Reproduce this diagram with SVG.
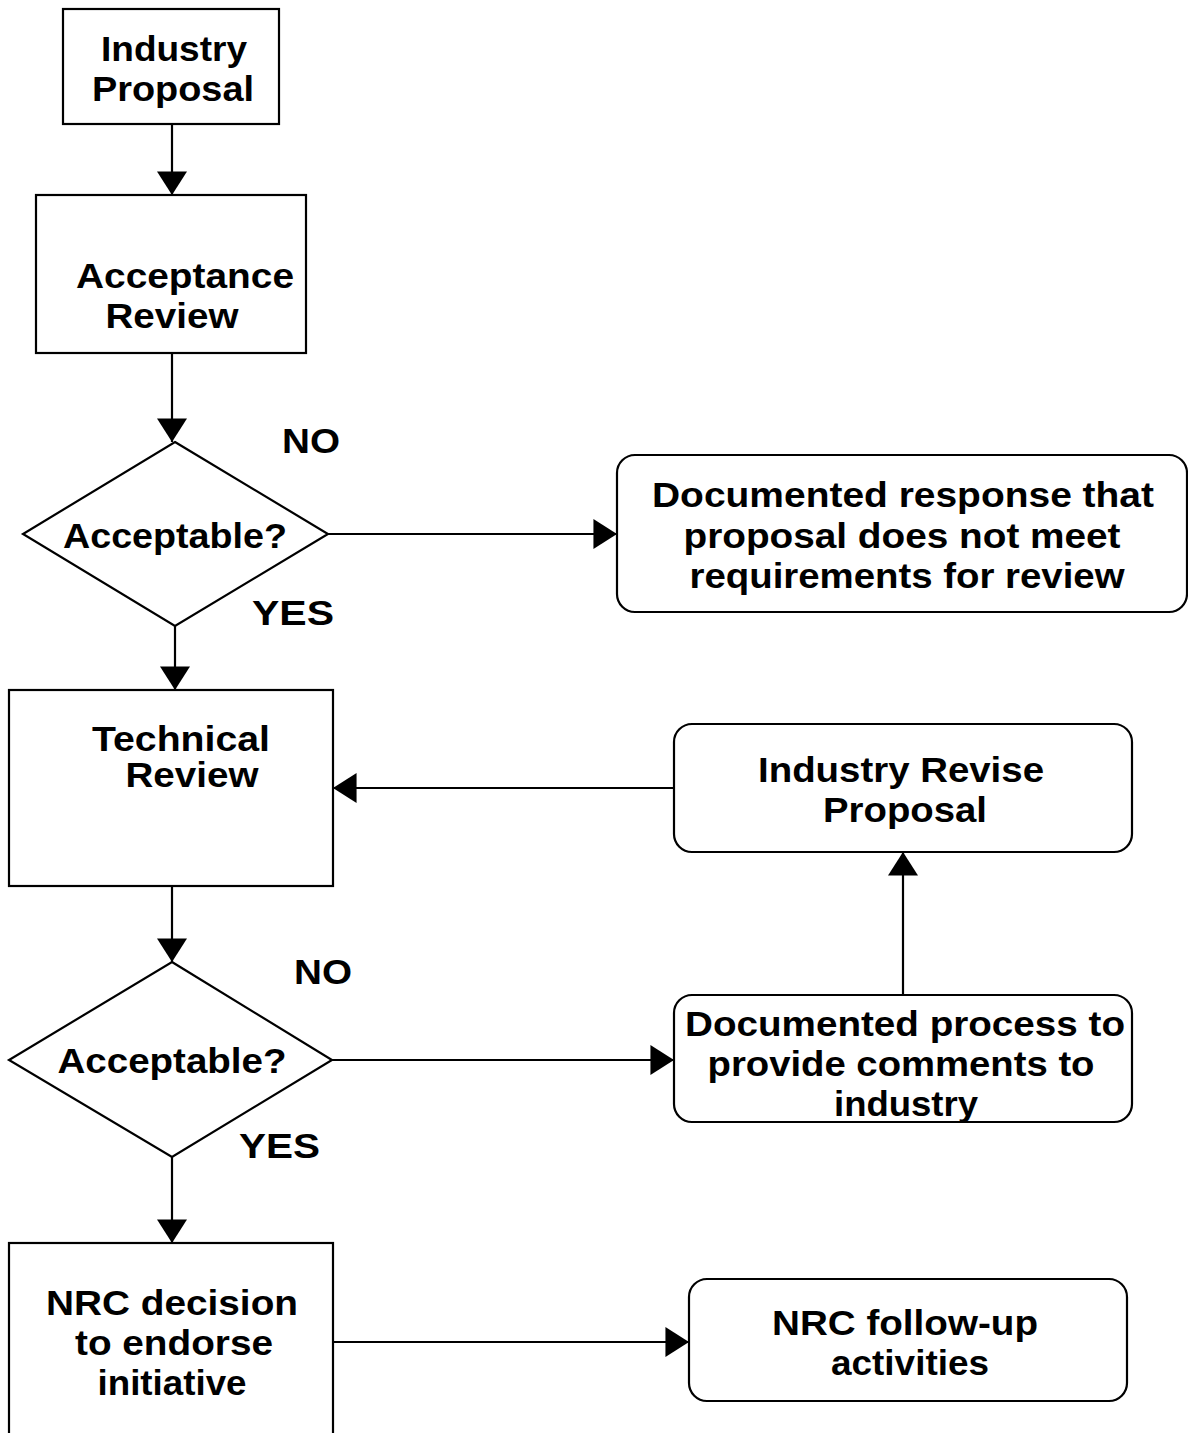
<svg xmlns="http://www.w3.org/2000/svg" width="1188" height="1433" viewBox="0 0 1188 1433">
<style>
.box{fill:#fff;stroke:#000;stroke-width:2.2}
.t{font-family:"Liberation Sans",Arial,sans-serif;font-weight:bold;font-size:35px;fill:#000;text-anchor:middle}
.l{font-family:"Liberation Sans",Arial,sans-serif;font-weight:bold;font-size:35px;fill:#000}
.c{fill:none;stroke:#000;stroke-width:2.2}
</style>
<defs>
<marker id="ah" markerUnits="userSpaceOnUse" markerWidth="30" markerHeight="30" viewBox="0 0 22 28" refX="22" refY="14" orient="auto">
<path d="M0,0 L22,14 L0,28 Z" fill="#000"/>
</marker>
</defs>
<rect width="1188" height="1433" fill="#fff"/>
<g id="connectors">
<line class="c" x1="172" y1="124" x2="172" y2="195" marker-end="url(#ah)"/>
<line class="c" x1="172" y1="353" x2="172" y2="442" marker-end="url(#ah)"/>
<line class="c" x1="328" y1="534" x2="617" y2="534" marker-end="url(#ah)"/>
<line class="c" x1="175" y1="626" x2="175" y2="690" marker-end="url(#ah)"/>
<line class="c" x1="674" y1="788" x2="333" y2="788" marker-end="url(#ah)"/>
<line class="c" x1="903" y1="995" x2="903" y2="852" marker-end="url(#ah)"/>
<line class="c" x1="172" y1="886" x2="172" y2="962" marker-end="url(#ah)"/>
<line class="c" x1="332" y1="1060" x2="674" y2="1060" marker-end="url(#ah)"/>
<line class="c" x1="172" y1="1157" x2="172" y2="1243" marker-end="url(#ah)"/>
<line class="c" x1="333" y1="1342" x2="689" y2="1342" marker-end="url(#ah)"/>
<text class="l" x="282" y="453" textLength="58" lengthAdjust="spacingAndGlyphs">NO</text>
<text class="l" x="252" y="625" textLength="82" lengthAdjust="spacingAndGlyphs">YES</text>
<text class="l" x="294" y="984" textLength="58" lengthAdjust="spacingAndGlyphs">NO</text>
<text class="l" x="239" y="1158" textLength="81" lengthAdjust="spacingAndGlyphs">YES</text>
</g>
<g id="industry-proposal">
<rect class="box" x="63" y="9" width="216" height="115"/>
<text class="t" x="174" y="61" textLength="146" lengthAdjust="spacingAndGlyphs">Industry</text>
<text class="t" x="173" y="101" textLength="162" lengthAdjust="spacingAndGlyphs">Proposal</text>
</g>
<g id="acceptance-review">
<rect class="box" x="36" y="195" width="270" height="158"/>
<text class="t" x="185" y="288" textLength="218" lengthAdjust="spacingAndGlyphs">Acceptance</text>
<text class="t" x="172" y="328" textLength="133" lengthAdjust="spacingAndGlyphs">Review</text>
</g>
<g id="acceptable-1">
<polygon class="box" points="175,442 328,534 175,626 23,534"/>
<text class="t" x="175" y="548" textLength="224" lengthAdjust="spacingAndGlyphs">Acceptable?</text>
</g>
<g id="documented-response">
<rect class="box" x="617" y="455" width="570" height="157" rx="18"/>
<text class="t" x="903" y="507" textLength="502" lengthAdjust="spacingAndGlyphs">Documented response that</text>
<text class="t" x="902" y="548" textLength="437" lengthAdjust="spacingAndGlyphs">proposal does not meet</text>
<text class="t" x="907" y="588" textLength="435" lengthAdjust="spacingAndGlyphs">requirements for review</text>
</g>
<g id="technical-review">
<rect class="box" x="9" y="690" width="324" height="196"/>
<text class="t" x="181" y="751" textLength="178" lengthAdjust="spacingAndGlyphs">Technical</text>
<text class="t" x="192" y="787" textLength="133" lengthAdjust="spacingAndGlyphs">Review</text>
</g>
<g id="industry-revise">
<rect class="box" x="674" y="724" width="458" height="128" rx="18"/>
<text class="t" x="901" y="782" textLength="286" lengthAdjust="spacingAndGlyphs">Industry Revise</text>
<text class="t" x="905" y="822" textLength="164" lengthAdjust="spacingAndGlyphs">Proposal</text>
</g>
<g id="acceptable-2">
<polygon class="box" points="172,962 332,1060 172,1157 9,1060"/>
<text class="t" x="172" y="1073" textLength="229" lengthAdjust="spacingAndGlyphs">Acceptable?</text>
</g>
<g id="documented-process">
<rect class="box" x="674" y="995" width="458" height="127" rx="18"/>
<text class="t" x="905" y="1036" textLength="440" lengthAdjust="spacingAndGlyphs">Documented process to</text>
<text class="t" x="901" y="1076" textLength="387" lengthAdjust="spacingAndGlyphs">provide comments to</text>
<text class="t" x="906" y="1116" textLength="144" lengthAdjust="spacingAndGlyphs">industry</text>
</g>
<g id="nrc-decision">
<rect class="box" x="9" y="1243" width="324" height="210"/>
<text class="t" x="172" y="1315" textLength="252" lengthAdjust="spacingAndGlyphs">NRC decision</text>
<text class="t" x="174" y="1355" textLength="198" lengthAdjust="spacingAndGlyphs">to endorse</text>
<text class="t" x="172" y="1395" textLength="149" lengthAdjust="spacingAndGlyphs">initiative</text>
</g>
<g id="nrc-follow-up">
<rect class="box" x="689" y="1279" width="438" height="122" rx="18"/>
<text class="t" x="905" y="1335" textLength="266" lengthAdjust="spacingAndGlyphs">NRC follow-up</text>
<text class="t" x="910" y="1375" textLength="158" lengthAdjust="spacingAndGlyphs">activities</text>
</g>
</svg>
